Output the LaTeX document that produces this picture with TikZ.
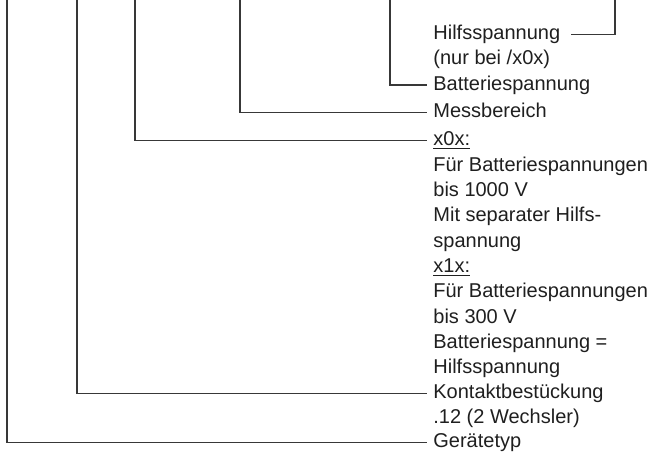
\documentclass[tikz,border=0pt]{standalone}
\usepackage{fontspec}
\setmainfont{Liberation Sans}
\usetikzlibrary{positioning}

\begin{document}
\begin{tikzpicture}[x=0.5pt,y=-0.5pt,
		lbl/.style={anchor=west,inner xsep=3pt,inner ysep=0pt,text height=0.7em,text depth=0.18em,text=black!88,font=\fontsize{10}{12}\selectfont},
		lead/.style={line width=0.65pt,draw=black!78}
	]
	\useasboundingbox (0,0) rectangle (652,459);
	\node[lbl] (hilfs) at (427,34.3) {Hilfsspannung};
	\node[lbl] (hilfsnote) at (427,59.6) {(nur bei /x0x)};
	\node[lbl] (batt) at (427,85) {Batteriespannung};
	\node[lbl] (mess) at (427,112.7) {Messbereich};
	\node[lbl] (xnull) at (427,140.7) {\underline{x0x:}};
	\node[lbl] (xnulla) at (427,166) {Für Batteriespannungen};
	\node[lbl] (xnullb) at (427,191.3) {bis 1000 V};
	\node[lbl] (xnullc) at (427,216.6) {Mit separater Hilfs-};
	\node[lbl] (xnulld) at (427,241.9) {spannung};
	\node[lbl] (xeins) at (427,267.2) {\underline{x1x:}};
	\node[lbl] (xeinsa) at (427,292.5) {Für Batteriespannungen};
	\node[lbl] (xeinsb) at (427,317.8) {bis 300 V};
	\node[lbl] (xeinsc) at (427,343.1) {Batteriespannung =};
	\node[lbl] (xeinsd) at (427,368.4) {Hilfsspannung};
	\node[lbl] (kontakt) at (427,393.3) {Kontaktbestückung};
	\node[lbl] (kontaktnote) at (427,418) {.12 (2 Wechsler)};
	\node[lbl] (geraet) at (427,442.7) {Gerätetyp};
	\coordinate (topa) at (7,0);
	\coordinate (topb) at (77,0);
	\coordinate (topc) at (135,0);
	\coordinate (topd) at (240,0);
	\coordinate (tope) at (390,0);
	\coordinate (topf) at (615,0);
	\draw[lead] (topa) |- (geraet.west);
	\draw[lead] (topb) |- (kontakt.west);
	\draw[lead] (topc) |- (xnull.west);
	\draw[lead] (topd) |- (mess.west);
	\draw[lead] (tope) |- (batt.west);
	\draw[lead] (topf) |- ([xshift=2pt]hilfs.east);
\end{tikzpicture}
\end{document}
